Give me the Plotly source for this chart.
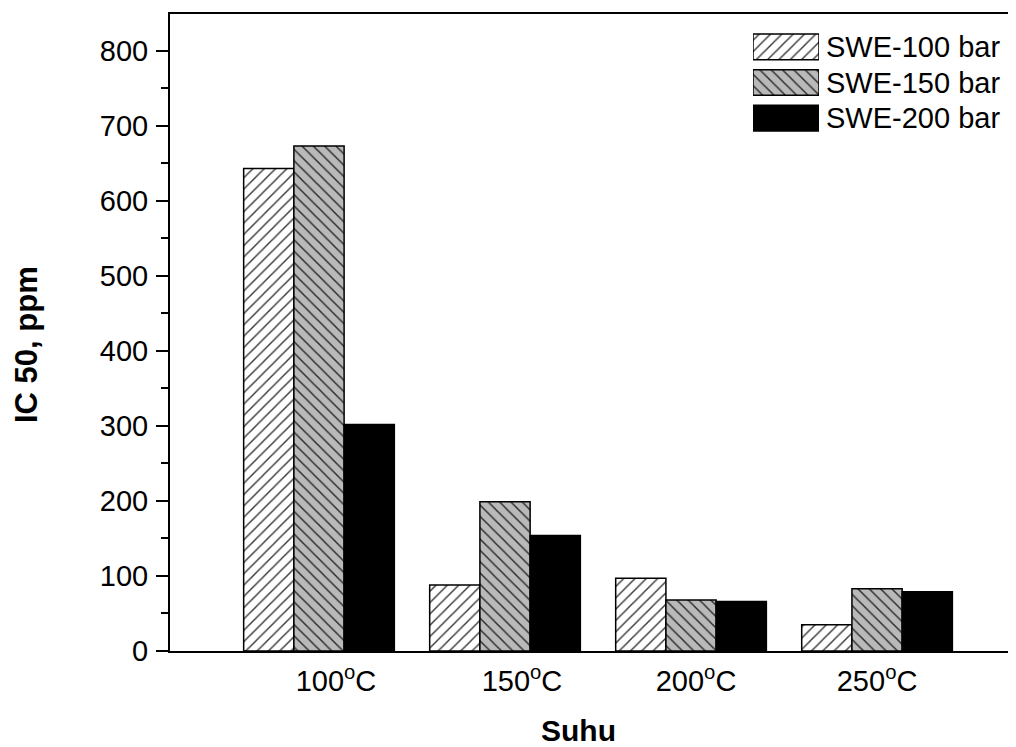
import plotly.graph_objects as go

# ---- data ----
categories = ["100<sup>o</sup>C", "150<sup>o</sup>C", "200<sup>o</sup>C", "250<sup>o</sup>C"]
series_names = ["SWE-100 bar", "SWE-150 bar", "SWE-200 bar"]
swe100 = [643, 88, 97, 35]
swe150 = [673, 199, 68, 83]
swe200 = [302, 154, 66, 79]
y_title = "IC 50, ppm"
x_title = "Suhu"

# horizontal shift of each category label (px), as in the reference
label_shift_px = [17, 17, 5, 0]

values = [swe100, swe150, swe200]
styles = [
    dict(shape="/", bg="#ffffff", fg="#3a3a3a"),
    dict(shape="\\", bg="#b9b9b9", fg="#2a2a2a"),
    dict(shape="", bg="#000000", fg="#000000"),
]

FONT = "Arial, Liberation Sans, sans-serif"
OFF = 8  # page body margin offset
W, H = 1016 - OFF, 747 - OFF
L, T = 170 - OFF, 14 - OFF
R = 0
B = H - (651 - OFF)
pw, ph = W - L - R, H - T - B
XR = [-0.801, 3.747]
px_per_unit = pw / (XR[1] - XR[0])

fig = go.Figure()
xpos = list(range(len(categories)))

def marker_for(st):
    m = dict(color=st["bg"], line=dict(color="#000000", width=1.5))
    if st["shape"]:
        m["pattern"] = dict(shape=st["shape"], bgcolor=st["bg"], fgcolor=st["fg"],
                            fillmode="replace", size=8, solidity=0.18)
    return m

for name, vals, st in zip(series_names, values, styles):
    fig.add_trace(go.Bar(x=xpos, y=vals, name=name, marker=marker_for(st),
                         showlegend=False, xaxis="x", yaxis="y"))

# legend drawn as a small inset bar chart
for name, st in zip(series_names, styles):
    fig.add_trace(go.Bar(x=[1], y=[name], orientation="h", marker=marker_for(st),
                         showlegend=False, xaxis="x2", yaxis="y2", width=0.72))

# conversions from reference page pixels to paper coordinates
def px2paper_x(px):
    return (px - OFF - L) / pw

def px2paper_y(py):
    return (H - B - (py - OFF)) / ph

tickvals = [x + s / px_per_unit for x, s in zip(xpos, label_shift_px)]

fig.update_layout(
    width=W, height=H,
    margin=dict(l=L, r=R, t=T, b=B),
    paper_bgcolor="white", plot_bgcolor="white",
    font=dict(family=FONT, size=29, color="#000000"),
    bargap=0.19, bargroupgap=0,
    barmode="group",
    xaxis=dict(
        domain=[0, 1],
        range=XR,
        tickvals=tickvals, ticktext=categories,
        showline=True, linewidth=2, linecolor="#000000", mirror=True,
        ticks="", showgrid=False, zeroline=False,
        tickfont=dict(size=29), ticklabelstandoff=3,
    ),
    yaxis=dict(
        domain=[0, 1],
        range=[0, 849],
        dtick=100, tick0=0,
        showline=True, linewidth=2, linecolor="#000000",
        ticks="outside", ticklen=12, tickwidth=2, tickcolor="#000000",
        minor=dict(dtick=50, ticks="outside", ticklen=7, tickwidth=2, tickcolor="#000000"),
        showgrid=False, zeroline=False,
        tickfont=dict(size=29), ticklabelstandoff=2,
    ),
    xaxis2=dict(
        domain=[px2paper_x(753), px2paper_x(819)],
        range=[0, 1], anchor="y2",
        visible=False, fixedrange=True,
    ),
    yaxis2=dict(
        domain=[px2paper_y(136), px2paper_y(29)],
        anchor="x2", side="right",
        categoryorder="array", categoryarray=series_names,
        autorange="reversed",
        showline=False, ticks="", showgrid=False, zeroline=False,
        tickfont=dict(size=29), ticklabelstandoff=6,
    ),
    annotations=[
        dict(text="<b>%s</b>" % y_title, xref="paper", yref="paper",
             x=px2paper_x(26), y=px2paper_y(345), textangle=-90,
             xanchor="center", yanchor="middle", showarrow=False,
             font=dict(size=31, family=FONT)),
        dict(text="<b>%s</b>" % x_title, xref="paper", yref="paper",
             x=px2paper_x(578), y=px2paper_y(730),
             xanchor="center", yanchor="middle", showarrow=False,
             font=dict(size=30, family=FONT)),
    ],
)

fig.write_html("out.html")
